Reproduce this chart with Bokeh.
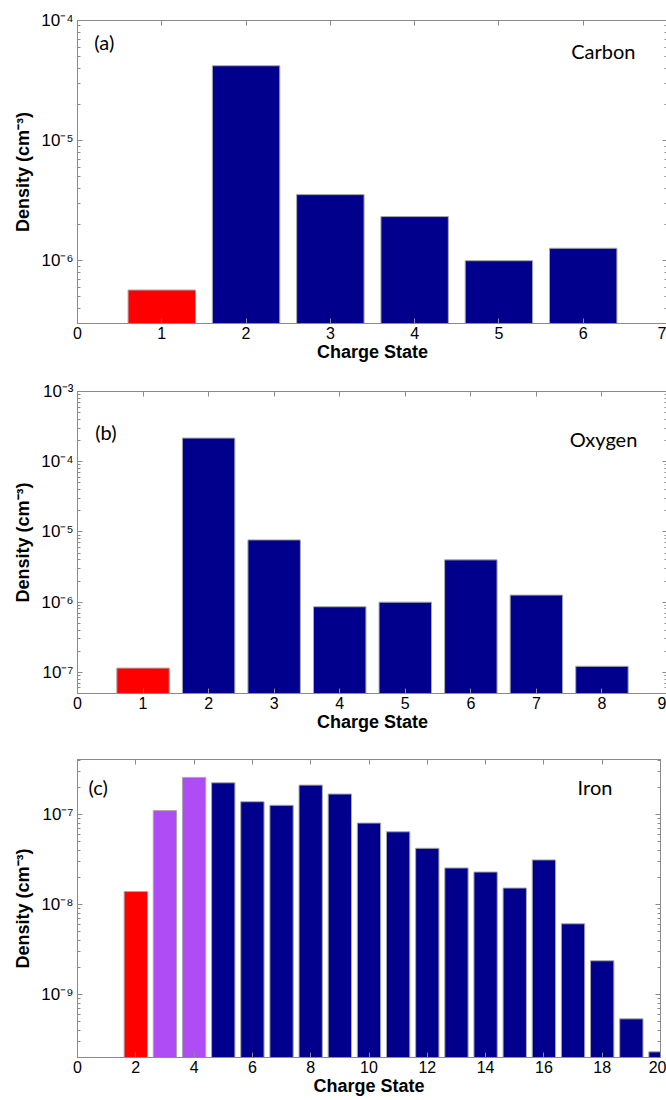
from bokeh.plotting import figure
from bokeh.models import (FixedTicker, LinearAxis, LogAxis, Label, Range1d,
                          ColumnDataSource, CustomJSTickFormatter)
from bokeh.transform import factor_cmap
from bokeh.layouts import column
from bokeh.embed import file_html
from bokeh.resources import INLINE

# ---------------- data ----------------
carbon_charge = [1, 2, 3, 4, 5, 6]
carbon_density = [5.7e-7, 4.2e-5, 3.55e-6, 2.33e-6, 1.0e-6, 1.27e-6]
carbon_group = ["g1", "g3", "g3", "g3", "g3", "g3"]

oxygen_charge = [1, 2, 3, 4, 5, 6, 7, 8]
oxygen_density = [1.15e-7, 2.17e-4, 7.7e-6, 8.6e-7, 1.0e-6, 4.0e-6, 1.26e-6, 1.22e-7]
oxygen_group = ["g1", "g3", "g3", "g3", "g3", "g3", "g3", "g3"]

iron_charge = [2, 3, 4, 5, 6, 7, 8, 9, 10, 11, 12, 13, 14, 15, 16, 17, 18, 19, 20]
iron_density = [1.39e-8, 1.1e-7, 2.57e-7, 2.24e-7, 1.38e-7, 1.26e-7, 2.11e-7, 1.68e-7,
                8.0e-8, 6.4e-8, 4.2e-8, 2.54e-8, 2.29e-8, 1.52e-8, 3.12e-8, 6.1e-9,
                2.37e-9, 5.37e-10, 2.31e-10]
iron_group = ["g1", "g2", "g2"] + ["g3"] * 16

carbon_xticks = [0, 1, 2, 3, 4, 5, 6, 7]
oxygen_xticks = [0, 1, 2, 3, 4, 5, 6, 7, 8, 9]
iron_xticks = [0, 2, 4, 6, 8, 10, 12, 14, 16, 18, 20]

carbon_yticks = [1e-6, 1e-5, 1e-4]
oxygen_yticks = [1e-7, 1e-6, 1e-5, 1e-4, 1e-3]
iron_yticks = [1e-9, 1e-8, 1e-7]

GROUPS = ["g1", "g2", "g3"]
PALETTE = ["#FF0000", "#B04CF6", "#00008C"]

AXIS_GRAY = "#8a8a8a"
TICK_FONT = "Liberation Sans"

SUP_JS = """
const sup = {'-':'\u207b','0':'\u2070','1':'\u00b9','2':'\u00b2','3':'\u00b3','4':'\u2074',
             '5':'\u2075','6':'\u2076','7':'\u2077','8':'\u2078','9':'\u2079'};
const e = Math.round(Math.log10(tick));
return '10' + String(e).split('').map(c => sup[c]).join('');
"""
BLANK_JS = "return '';"


def minor_list(majors, lo, hi):
    out = []
    for m in majors + [majors[0] / 10]:
        for k in range(2, 10):
            v = m * k
            if lo <= v <= hi:
                out.append(v)
    return out


def style_box_axis(ax):
    ax.formatter = CustomJSTickFormatter(code=BLANK_JS)
    ax.major_label_text_color = None
    ax.major_label_standoff = 0
    ax.axis_line_color = AXIS_GRAY
    ax.major_tick_line_color = AXIS_GRAY
    ax.minor_tick_line_color = AXIS_GRAY
    ax.major_tick_in = 5
    ax.major_tick_out = 0
    ax.minor_tick_in = 3
    ax.minor_tick_out = 0


def panel(xs, ys, gs, xticks, yticks, xmax, ymin, ymax, tag, name,
          tag_xy, name_xy, fw, fh, ml, mr, mt, mb):
    p = figure(frame_width=fw, frame_height=fh, y_axis_type="log",
               x_range=Range1d(0, xmax), y_range=Range1d(ymin, ymax),
               output_backend="svg", toolbar_location=None,
               min_border_left=ml, min_border_right=mr,
               min_border_top=mt, min_border_bottom=mb,
               background_fill_color="white", border_fill_color="white")
    p.grid.visible = False
    p.outline_line_color = AXIS_GRAY

    src = ColumnDataSource(dict(x=xs, y=ys, g=gs))
    p.vbar(x="x", top="y", bottom=ymin, width=0.8, source=src,
           fill_color=factor_cmap("g", PALETTE, GROUPS),
           line_color="#a8a8a8", line_width=1)

    xt = FixedTicker(ticks=xticks, minor_ticks=[])
    yt = FixedTicker(ticks=yticks, minor_ticks=minor_list(yticks, ymin, ymax))

    xa = p.xaxis[0]
    xa.ticker = xt
    xa.axis_label = "Charge State"
    ya = p.yaxis[0]
    ya.ticker = yt
    ya.formatter = CustomJSTickFormatter(code=SUP_JS)
    ya.axis_label = "Density (cm\u207b\u00b3)"

    for ax in (xa, ya):
        ax.axis_line_color = AXIS_GRAY
        ax.major_tick_line_color = AXIS_GRAY
        ax.minor_tick_line_color = AXIS_GRAY
        ax.major_tick_in = 5
        ax.major_tick_out = 0
        ax.minor_tick_in = 3
        ax.minor_tick_out = 0
        ax.major_label_text_font = TICK_FONT
        ax.major_label_text_font_size = "16px"
        ax.major_label_text_color = "black"
        ax.axis_label_text_font = TICK_FONT
        ax.axis_label_text_font_style = "bold"
        ax.axis_label_text_font_size = "18px"
        ax.axis_label_text_color = "black"
    ya.major_label_text_font_size = "17px"
    xa.major_label_standoff = 3
    xa.axis_label_standoff = 0
    ya.major_label_standoff = 4
    ya.axis_label_standoff = 5

    top = LinearAxis(ticker=xt)
    style_box_axis(top)
    p.add_layout(top, "above")
    right = LogAxis(ticker=yt)
    style_box_axis(right)
    p.add_layout(right, "right")

    p.add_layout(Label(x=tag_xy[0], y=tag_xy[1], text=tag, text_font="Lato",
                       text_font_size="20px", text_baseline="middle",
                       text_align="left", text_color="black"))
    p.add_layout(Label(x=name_xy[0], y=name_xy[1], text=name, text_font="Lato",
                       text_font_size="20px", text_baseline="middle",
                       text_align="right", text_color="black"))
    return p


pa = panel(carbon_charge, carbon_density, carbon_group, carbon_xticks, carbon_yticks,
           7, 3e-7, 1e-4, "(a)", "Carbon", (0.2, 10 ** -4.18), (6.62, 10 ** -4.25),
           590, 303, 72, 4, 20, 44)
pb = panel(oxygen_charge, oxygen_density, oxygen_group, oxygen_xticks, oxygen_yticks,
           9, 5e-8, 1e-3, "(b)", "Oxygen", (0.27, 10 ** -3.58), (8.54, 10 ** -3.67),
           590, 302, 72, 4, 24, 44)
pc = panel(iron_charge, iron_density, iron_group, iron_xticks, iron_yticks,
           20, 2e-10, 4.06e-7, "(c)", "Iron", (0.38, 10 ** -6.70), (18.35, 10 ** -6.70),
           583, 298, 77, 6, 22, 43)

layout = column(pa, pb, pc, spacing=0)

open("out.html", "w").write(file_html(layout, INLINE))
